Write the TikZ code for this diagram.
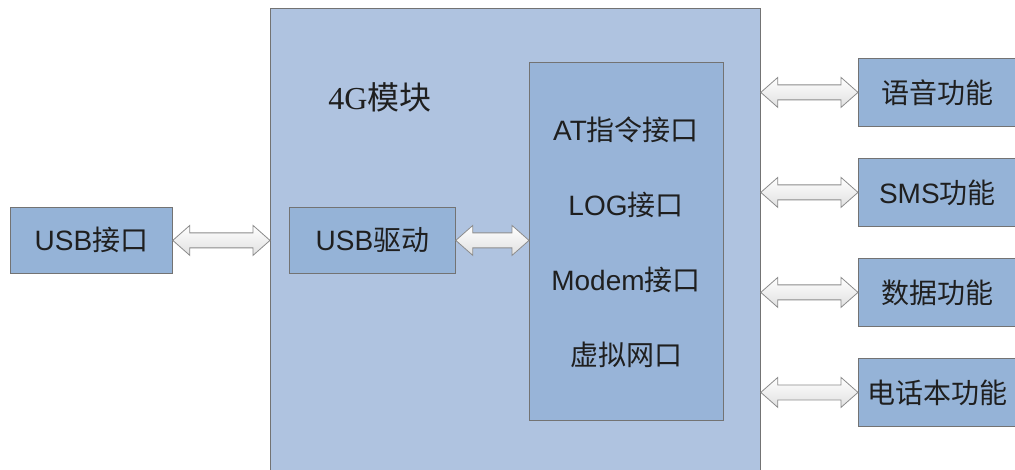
\documentclass[tikz,border=0pt]{standalone}
\usepackage{fontspec}
\setmainfont{Liberation Sans}
\newfontfamily\cjk{Noto Sans CJK SC}
\newfontfamily\songti{Liberation Serif}
\newcommand{\zh}[1]{{\cjk #1}}
\usetikzlibrary{calc}

\definecolor{boxblue}{RGB}{149,179,215}
\definecolor{modblue}{RGB}{175,195,224}
\definecolor{ifblue}{RGB}{152,180,216}

\tikzset{
	box/.style={draw=black!55, line width=0.8pt, inner sep=0pt},
	fatarrow/.style={draw=black!45, line width=0.8pt, top color=white, bottom color=black!12,
		to path={let \p1=(\tikztostart), \p2=(\tikztotarget) in
			(\x1,\y1) -- (\x1+17pt,\y1+15pt) -- (\x1+17pt,\y1+7.5pt) -- (\x2-17pt,\y1+7.5pt)
			-- (\x2-17pt,\y1+15pt) -- (\x2,\y1) -- (\x2-17pt,\y1-15pt) -- (\x2-17pt,\y1-7.5pt)
			-- (\x1+17pt,\y1-7.5pt) -- (\x1+17pt,\y1-15pt) -- cycle}},
}

\begin{document}
\begin{tikzpicture}[x=1pt, y=-1pt, font=\fontsize{28}{32}\selectfont, text=black!88]
		\clip (0,0) rectangle (1015,470);
		\fill[white] (0,0) rectangle (1015,470);
		\path (10,207) node (usb)
			[box, fill=boxblue, anchor=north west, minimum width=162, minimum height=66]
				{USB\zh{接口}};
		\path (270,8) node (module)
			[box, fill=modblue, anchor=north west, minimum width=490, minimum height=480] {};
		\path (380,97) node (modname)
			[font=\fontsize{32}{36}\selectfont] {{\songti 4G}\zh{模块}};
		\path (289,207) node (drv)
			[box, fill=boxblue, anchor=north west, minimum width=166, minimum height=66]
				{USB\zh{驱动}};
		\path (529,62) node (iface)
			[box, fill=ifblue, anchor=north west, minimum width=194, minimum height=358] {};
		\foreach \name [count=\i] in {AT\zh{指令接口}, LOG\zh{接口}, Modem\zh{接口}, \zh{虚拟网口}}
			\path (626,55+75*\i) node (port\i) {\name};
		\foreach \name [count=\i] in {\zh{语音功能}, SMS\zh{功能}, \zh{数据功能}, \zh{电话本功能}}
			\path (858,58+100*\i-100) node (func\i)
				[box, fill=boxblue, anchor=north west, minimum width=158, minimum height=68] {\name};
		\draw[fatarrow] (usb.east) to (module.west |- usb.east);
		\draw[fatarrow] (drv.east) to (iface.west |- drv.east);
		\foreach \i in {1,...,4}
			\draw[fatarrow] (module.east |- func\i.west) to (func\i.west);
	\end{tikzpicture}
\end{document}
